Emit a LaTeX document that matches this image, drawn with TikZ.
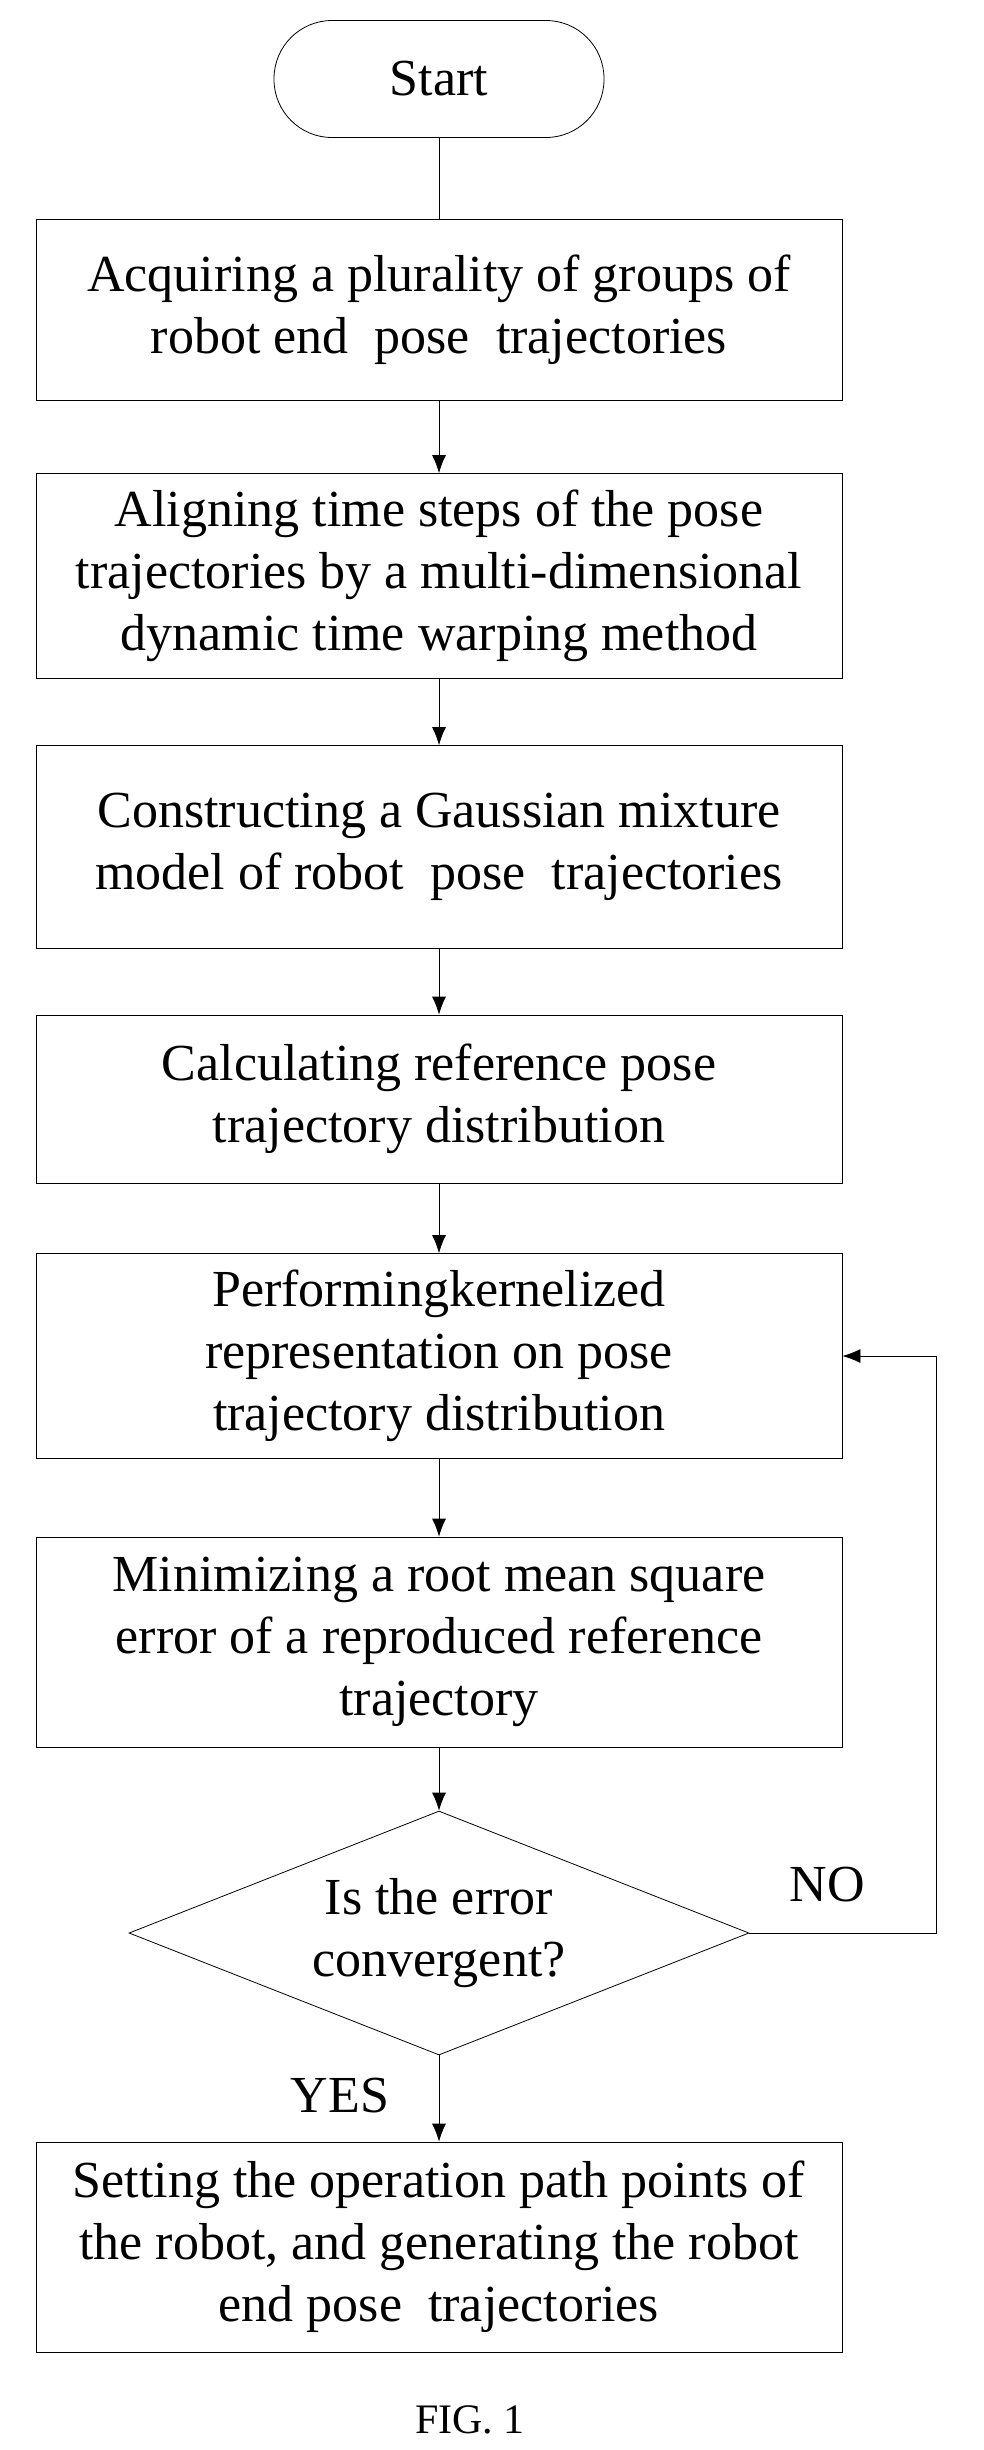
\documentclass[tikz,border=0pt]{standalone}
\usepackage{fontspec}
\setmainfont{Liberation Serif}
\usetikzlibrary{shapes.geometric,arrows.meta}

\begin{document}
\begin{tikzpicture}[x=1pt,y=-1pt,
    procbox/.style={draw,thick,minimum width=806pt,align=center,inner sep=0pt,
      font=\fontsize{52}{62}\selectfont},
    flow/.style={-{Latex[length=18pt,width=14pt]},thick}]
    \useasboundingbox (0,0) rectangle (983,2450);

    \node[draw,thick,rounded corners=58pt,minimum width=330pt,minimum height=117pt,
      font=\fontsize{52}{62}\selectfont] (start) at (439,79) {Start};
    \node[procbox,minimum height=181pt] (acq) at (439,310) {Acquiring a plurality of groups of\\robot end\ \ pose\ \ trajectories};
    \node[procbox,minimum height=205pt] (align) at (439,576) {Aligning time steps of the pose\\trajectories by a multi-dimensional\\dynamic time warping method};
    \node[procbox,minimum height=203pt] (gmm) at (439,847) {Constructing a Gaussian mixture\\model of robot\ \ pose\ \ trajectories};
    \node[procbox,minimum height=168pt] (ref) at (439,1099) {Calculating reference pose\\trajectory distribution};
    \node[procbox,minimum height=205pt] (kern) at (439,1356) {Performingkernelized\\representation on pose\\trajectory distribution};
    \node[procbox,minimum height=210pt] (rmse) at (439,1642) {Minimizing a root mean square\\error of a reproduced reference\\trajectory};
    \node[draw,thick,diamond,aspect=2.6,inner sep=0pt,minimum width=620pt,minimum height=244pt,
      align=center,font=\fontsize{52}{62}\selectfont] (conv) at (439,1933) {Is the error\\convergent?};
    \node[procbox,minimum height=210pt] (gen) at (439,2247) {Setting the operation path points of\\the robot, and generating the robot\\end pose\ \ trajectories};
    \coordinate (back) at (936,1933);

    \draw[thick] (start) -- (acq);
    \draw[flow] (acq) -- (align);
    \draw[flow] (align) -- (gmm);
    \draw[flow] (gmm) -- (ref);
    \draw[flow] (ref) -- (kern);
    \draw[flow] (kern) -- (rmse);
    \draw[flow] (rmse) -- (conv);
    \draw[flow] (conv) -- (gen);
    \draw[flow] (conv.east) -- (back) |- (kern.east);

    \node[font=\fontsize{52}{62}\selectfont] (no) at (827,1885) {NO};
    \node[font=\fontsize{52}{62}\selectfont] (yes) at (340,2096) {YES};
    \node[font=\fontsize{42}{50}\selectfont] (fig) at (470,2420) {FIG. 1};
\end{tikzpicture}
\end{document}
